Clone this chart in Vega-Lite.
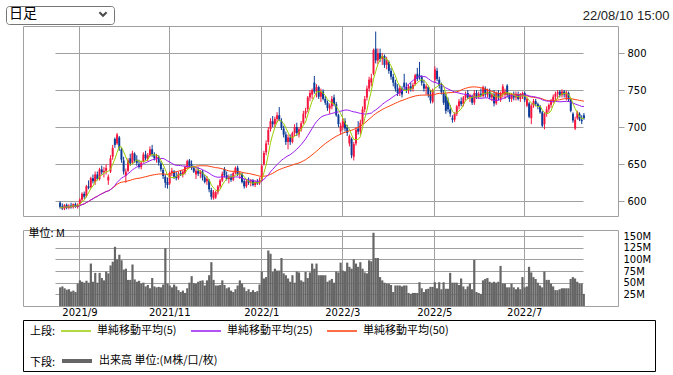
{
"$schema": "https://vega.github.io/schema/vega-lite/v6.json",
"padding": {"left": 5, "top": 5, "right": 5, "bottom": 5},
"background": "white",
"bounds": "flush",
"spacing": 14,
"config": {
 "view": {"stroke": "#a0a0a0"},
 "font": "DejaVu Sans",
 "axis": {"gridColor": "#a0a0a0", "gridOpacity": 1, "domain": false, "labelFont": "DejaVu Sans", "labelFontSize": 10, "labelColor": "#000", "tickColor": "#a0a0a0", "titleFontWeight": "normal"},
 "legend": {"titleFontWeight": "normal", "labelColor": "#000", "titleColor": "#000", "padding": 0}
},
"resolve": {"scale": {"color": "independent", "stroke": "independent", "shape": "independent"}, "legend": {"color": "independent", "stroke": "independent", "shape": "independent"}},
"datasets": {"px": [
{"d":"2021-08-19","o":598,"h":600,"l":590,"c":592,"v":40},
{"d":"2021-08-20","o":593,"h":597,"l":588,"c":590,"v":42},
{"d":"2021-08-23","o":590,"h":596,"l":588,"c":595,"v":38},
{"d":"2021-08-24","o":595,"h":597,"l":589,"c":591,"v":35},
{"d":"2021-08-25","o":591,"h":596,"l":589,"c":594,"v":36},
{"d":"2021-08-26","o":594,"h":598,"l":590,"c":592,"v":31},
{"d":"2021-08-27","o":592,"h":597,"l":590,"c":596,"v":33},
{"d":"2021-08-30","o":596,"h":598,"l":591,"c":593,"v":30},
{"d":"2021-08-31","o":592,"h":597,"l":590,"c":595,"v":48},
{"d":"2021-09-01","o":596,"h":604,"l":594,"c":602,"v":55},
{"d":"2021-09-02","o":602,"h":612,"l":600,"c":610,"v":52},
{"d":"2021-09-03","o":610,"h":613,"l":603,"c":606,"v":50},
{"d":"2021-09-06","o":607,"h":622,"l":605,"c":620,"v":54},
{"d":"2021-09-07","o":620,"h":628,"l":616,"c":618,"v":50},
{"d":"2021-09-08","o":619,"h":633,"l":617,"c":631,"v":91},
{"d":"2021-09-09","o":631,"h":636,"l":624,"c":627,"v":52},
{"d":"2021-09-10","o":626,"h":640,"l":622,"c":636,"v":71},
{"d":"2021-09-13","o":636,"h":640,"l":628,"c":630,"v":50},
{"d":"2021-09-14","o":630,"h":645,"l":628,"c":643,"v":71},
{"d":"2021-09-15","o":643,"h":648,"l":636,"c":639,"v":60},
{"d":"2021-09-16","o":639,"h":646,"l":632,"c":641,"v":55},
{"d":"2021-09-17","o":641,"h":650,"l":636,"c":645,"v":74},
{"d":"2021-09-21","o":628,"h":636,"l":622,"c":633,"v":70},
{"d":"2021-09-22","o":640,"h":662,"l":638,"c":658,"v":87},
{"d":"2021-09-24","o":660,"h":676,"l":656,"c":672,"v":95},
{"d":"2021-09-27","o":684,"h":686,"l":672,"c":676,"v":127},
{"d":"2021-09-28","o":678,"h":692,"l":676,"c":690,"v":100},
{"d":"2021-09-29","o":686,"h":688,"l":668,"c":672,"v":110},
{"d":"2021-09-30","o":670,"h":672,"l":652,"c":656,"v":98},
{"d":"2021-10-01","o":655,"h":660,"l":636,"c":640,"v":78},
{"d":"2021-10-04","o":634,"h":644,"l":625,"c":640,"v":80},
{"d":"2021-10-05","o":641,"h":658,"l":639,"c":655,"v":56},
{"d":"2021-10-06","o":658,"h":664,"l":648,"c":651,"v":56},
{"d":"2021-10-07","o":652,"h":668,"l":650,"c":665,"v":89},
{"d":"2021-10-08","o":664,"h":666,"l":652,"c":655,"v":57},
{"d":"2021-10-11","o":656,"h":662,"l":648,"c":652,"v":52},
{"d":"2021-10-12","o":650,"h":656,"l":644,"c":646,"v":54},
{"d":"2021-10-13","o":646,"h":654,"l":643,"c":652,"v":48},
{"d":"2021-10-14","o":653,"h":666,"l":652,"c":663,"v":50},
{"d":"2021-10-15","o":663,"h":668,"l":655,"c":658,"v":42},
{"d":"2021-10-18","o":657,"h":665,"l":654,"c":662,"v":45},
{"d":"2021-10-19","o":662,"h":674,"l":660,"c":670,"v":38},
{"d":"2021-10-20","o":670,"h":676,"l":660,"c":663,"v":60},
{"d":"2021-10-21","o":663,"h":666,"l":655,"c":658,"v":42},
{"d":"2021-10-22","o":658,"h":664,"l":652,"c":660,"v":40},
{"d":"2021-10-25","o":660,"h":662,"l":648,"c":652,"v":41},
{"d":"2021-10-26","o":651,"h":654,"l":640,"c":643,"v":40},
{"d":"2021-10-27","o":642,"h":645,"l":630,"c":634,"v":46},
{"d":"2021-10-28","o":633,"h":636,"l":618,"c":625,"v":124},
{"d":"2021-10-29","o":626,"h":632,"l":617,"c":622,"v":48},
{"d":"2021-11-01","o":624,"h":640,"l":622,"c":638,"v":44},
{"d":"2021-11-02","o":638,"h":645,"l":634,"c":641,"v":40},
{"d":"2021-11-04","o":640,"h":642,"l":630,"c":633,"v":46},
{"d":"2021-11-05","o":634,"h":640,"l":628,"c":631,"v":42},
{"d":"2021-11-08","o":631,"h":640,"l":629,"c":637,"v":34},
{"d":"2021-11-09","o":638,"h":642,"l":634,"c":636,"v":30},
{"d":"2021-11-10","o":636,"h":642,"l":632,"c":640,"v":33},
{"d":"2021-11-11","o":638,"h":648,"l":636,"c":646,"v":28},
{"d":"2021-11-12","o":646,"h":656,"l":644,"c":654,"v":38},
{"d":"2021-11-15","o":655,"h":657,"l":645,"c":648,"v":50},
{"d":"2021-11-16","o":650,"h":655,"l":642,"c":645,"v":64},
{"d":"2021-11-17","o":645,"h":648,"l":638,"c":640,"v":49},
{"d":"2021-11-18","o":636,"h":644,"l":630,"c":641,"v":48},
{"d":"2021-11-19","o":641,"h":646,"l":634,"c":637,"v":52},
{"d":"2021-11-22","o":637,"h":642,"l":631,"c":640,"v":54},
{"d":"2021-11-24","o":640,"h":642,"l":628,"c":632,"v":55},
{"d":"2021-11-25","o":632,"h":636,"l":624,"c":626,"v":44},
{"d":"2021-11-26","o":627,"h":634,"l":622,"c":630,"v":55},
{"d":"2021-11-29","o":628,"h":630,"l":612,"c":616,"v":66},
{"d":"2021-11-30","o":615,"h":618,"l":602,"c":606,"v":94},
{"d":"2021-12-01","o":604,"h":615,"l":602,"c":612,"v":56},
{"d":"2021-12-02","o":605,"h":614,"l":603,"c":612,"v":44},
{"d":"2021-12-03","o":612,"h":622,"l":609,"c":620,"v":44},
{"d":"2021-12-06","o":620,"h":630,"l":617,"c":628,"v":45},
{"d":"2021-12-07","o":628,"h":640,"l":626,"c":637,"v":55},
{"d":"2021-12-08","o":643,"h":646,"l":632,"c":635,"v":45},
{"d":"2021-12-09","o":635,"h":640,"l":628,"c":630,"v":38},
{"d":"2021-12-10","o":630,"h":636,"l":624,"c":633,"v":40},
{"d":"2021-12-13","o":633,"h":637,"l":626,"c":629,"v":33},
{"d":"2021-12-14","o":629,"h":640,"l":627,"c":638,"v":30},
{"d":"2021-12-15","o":638,"h":647,"l":636,"c":645,"v":36},
{"d":"2021-12-16","o":645,"h":648,"l":634,"c":636,"v":44},
{"d":"2021-12-17","o":636,"h":640,"l":630,"c":638,"v":55},
{"d":"2021-12-20","o":637,"h":638,"l":624,"c":626,"v":48},
{"d":"2021-12-21","o":627,"h":630,"l":617,"c":620,"v":40},
{"d":"2021-12-22","o":620,"h":630,"l":618,"c":627,"v":32},
{"d":"2021-12-23","o":628,"h":632,"l":622,"c":625,"v":36},
{"d":"2021-12-24","o":625,"h":630,"l":620,"c":627,"v":30},
{"d":"2021-12-27","o":628,"h":630,"l":620,"c":622,"v":34},
{"d":"2021-12-28","o":622,"h":628,"l":619,"c":626,"v":30},
{"d":"2021-12-29","o":626,"h":630,"l":622,"c":624,"v":32},
{"d":"2021-12-30","o":624,"h":632,"l":622,"c":628,"v":46},
{"d":"2022-01-04","o":628,"h":650,"l":626,"c":648,"v":74},
{"d":"2022-01-05","o":650,"h":668,"l":648,"c":665,"v":59},
{"d":"2022-01-06","o":666,"h":682,"l":662,"c":678,"v":62},
{"d":"2022-01-07","o":680,"h":700,"l":676,"c":696,"v":119},
{"d":"2022-01-11","o":697,"h":712,"l":694,"c":708,"v":112},
{"d":"2022-01-12","o":708,"h":715,"l":700,"c":704,"v":73},
{"d":"2022-01-13","o":704,"h":714,"l":700,"c":711,"v":80},
{"d":"2022-01-14","o":711,"h":720,"l":706,"c":716,"v":76},
{"d":"2022-01-17","o":716,"h":727,"l":708,"c":710,"v":76},
{"d":"2022-01-18","o":708,"h":712,"l":696,"c":699,"v":103},
{"d":"2022-01-19","o":698,"h":702,"l":686,"c":690,"v":70},
{"d":"2022-01-20","o":690,"h":694,"l":676,"c":680,"v":66},
{"d":"2022-01-21","o":680,"h":690,"l":670,"c":686,"v":59},
{"d":"2022-01-24","o":686,"h":690,"l":676,"c":680,"v":52},
{"d":"2022-01-25","o":680,"h":694,"l":678,"c":692,"v":66},
{"d":"2022-01-26","o":692,"h":704,"l":688,"c":700,"v":50},
{"d":"2022-01-27","o":700,"h":706,"l":688,"c":692,"v":74},
{"d":"2022-01-28","o":690,"h":700,"l":686,"c":697,"v":72},
{"d":"2022-01-31","o":697,"h":708,"l":694,"c":705,"v":55},
{"d":"2022-02-01","o":706,"h":722,"l":704,"c":718,"v":52},
{"d":"2022-02-02","o":718,"h":726,"l":712,"c":722,"v":73},
{"d":"2022-02-03","o":724,"h":742,"l":720,"c":740,"v":60},
{"d":"2022-02-04","o":740,"h":750,"l":735,"c":746,"v":72},
{"d":"2022-02-07","o":744,"h":752,"l":738,"c":750,"v":91},
{"d":"2022-02-08","o":760,"h":769,"l":745,"c":748,"v":80},
{"d":"2022-02-09","o":748,"h":758,"l":740,"c":754,"v":91},
{"d":"2022-02-10","o":754,"h":756,"l":738,"c":741,"v":66},
{"d":"2022-02-14","o":741,"h":752,"l":734,"c":748,"v":66},
{"d":"2022-02-15","o":748,"h":751,"l":736,"c":738,"v":66},
{"d":"2022-02-16","o":738,"h":742,"l":730,"c":733,"v":66},
{"d":"2022-02-17","o":733,"h":736,"l":722,"c":726,"v":52},
{"d":"2022-02-18","o":725,"h":732,"l":718,"c":729,"v":55},
{"d":"2022-02-21","o":728,"h":742,"l":724,"c":738,"v":58},
{"d":"2022-02-22","o":740,"h":744,"l":728,"c":731,"v":50},
{"d":"2022-02-24","o":731,"h":734,"l":714,"c":716,"v":74},
{"d":"2022-02-25","o":716,"h":718,"l":700,"c":704,"v":72},
{"d":"2022-02-28","o":694,"h":706,"l":690,"c":702,"v":93},
{"d":"2022-03-01","o":700,"h":712,"l":696,"c":708,"v":76},
{"d":"2022-03-02","o":708,"h":712,"l":694,"c":698,"v":74},
{"d":"2022-03-03","o":700,"h":703,"l":688,"c":692,"v":93},
{"d":"2022-03-04","o":678,"h":690,"l":674,"c":688,"v":84},
{"d":"2022-03-07","o":684,"h":686,"l":658,"c":662,"v":80},
{"d":"2022-03-08","o":660,"h":680,"l":655,"c":677,"v":100},
{"d":"2022-03-09","o":678,"h":700,"l":675,"c":696,"v":91},
{"d":"2022-03-10","o":698,"h":708,"l":690,"c":694,"v":84},
{"d":"2022-03-11","o":694,"h":710,"l":690,"c":706,"v":94},
{"d":"2022-03-14","o":706,"h":728,"l":704,"c":724,"v":80},
{"d":"2022-03-15","o":724,"h":742,"l":720,"c":738,"v":72},
{"d":"2022-03-16","o":740,"h":756,"l":736,"c":752,"v":70},
{"d":"2022-03-17","o":752,"h":768,"l":748,"c":764,"v":98},
{"d":"2022-03-18","o":760,"h":772,"l":755,"c":766,"v":96},
{"d":"2022-03-22","o":772,"h":806,"l":770,"c":804,"v":157},
{"d":"2022-03-23","o":806,"h":829,"l":786,"c":790,"v":103},
{"d":"2022-03-24","o":790,"h":806,"l":785,"c":800,"v":103},
{"d":"2022-03-25","o":800,"h":806,"l":788,"c":792,"v":62},
{"d":"2022-03-28","o":792,"h":800,"l":784,"c":796,"v":55},
{"d":"2022-03-29","o":796,"h":798,"l":780,"c":784,"v":50},
{"d":"2022-03-30","o":784,"h":795,"l":778,"c":790,"v":48},
{"d":"2022-03-31","o":788,"h":790,"l":772,"c":776,"v":48},
{"d":"2022-04-01","o":776,"h":780,"l":764,"c":768,"v":45},
{"d":"2022-04-04","o":768,"h":772,"l":755,"c":760,"v":30},
{"d":"2022-04-05","o":760,"h":764,"l":748,"c":752,"v":44},
{"d":"2022-04-06","o":752,"h":758,"l":742,"c":746,"v":44},
{"d":"2022-04-07","o":746,"h":756,"l":742,"c":753,"v":44},
{"d":"2022-04-08","o":752,"h":755,"l":740,"c":744,"v":42},
{"d":"2022-04-11","o":760,"h":772,"l":750,"c":754,"v":44},
{"d":"2022-04-12","o":754,"h":760,"l":746,"c":750,"v":44},
{"d":"2022-04-13","o":750,"h":758,"l":745,"c":755,"v":28},
{"d":"2022-04-14","o":755,"h":760,"l":748,"c":752,"v":26},
{"d":"2022-04-15","o":752,"h":760,"l":748,"c":757,"v":28},
{"d":"2022-04-18","o":758,"h":772,"l":756,"c":770,"v":28},
{"d":"2022-04-19","o":772,"h":780,"l":762,"c":765,"v":28},
{"d":"2022-04-20","o":770,"h":788,"l":764,"c":768,"v":51},
{"d":"2022-04-21","o":768,"h":770,"l":756,"c":760,"v":38},
{"d":"2022-04-22","o":758,"h":764,"l":748,"c":752,"v":30},
{"d":"2022-04-25","o":752,"h":758,"l":744,"c":755,"v":36},
{"d":"2022-04-26","o":754,"h":756,"l":740,"c":744,"v":37},
{"d":"2022-04-27","o":744,"h":750,"l":732,"c":736,"v":41},
{"d":"2022-04-28","o":734,"h":752,"l":732,"c":750,"v":41},
{"d":"2022-05-02","o":764,"h":782,"l":760,"c":778,"v":51},
{"d":"2022-05-06","o":776,"h":780,"l":762,"c":765,"v":38},
{"d":"2022-05-09","o":764,"h":768,"l":752,"c":756,"v":51},
{"d":"2022-05-10","o":756,"h":760,"l":744,"c":747,"v":36},
{"d":"2022-05-11","o":746,"h":750,"l":730,"c":733,"v":51},
{"d":"2022-05-12","o":742,"h":745,"l":718,"c":722,"v":37},
{"d":"2022-05-13","o":736,"h":740,"l":720,"c":724,"v":37},
{"d":"2022-05-16","o":724,"h":730,"l":714,"c":718,"v":71},
{"d":"2022-05-17","o":712,"h":716,"l":706,"c":710,"v":50},
{"d":"2022-05-18","o":710,"h":720,"l":707,"c":718,"v":50},
{"d":"2022-05-19","o":718,"h":730,"l":715,"c":728,"v":50},
{"d":"2022-05-20","o":728,"h":738,"l":724,"c":735,"v":45},
{"d":"2022-05-23","o":735,"h":740,"l":728,"c":731,"v":59},
{"d":"2022-05-24","o":731,"h":742,"l":728,"c":740,"v":42},
{"d":"2022-05-25","o":740,"h":748,"l":736,"c":744,"v":36},
{"d":"2022-05-26","o":746,"h":750,"l":738,"c":740,"v":42},
{"d":"2022-05-27","o":740,"h":745,"l":734,"c":743,"v":48},
{"d":"2022-05-30","o":742,"h":744,"l":730,"c":733,"v":36},
{"d":"2022-05-31","o":733,"h":750,"l":730,"c":746,"v":99},
{"d":"2022-06-01","o":746,"h":750,"l":738,"c":741,"v":30},
{"d":"2022-06-02","o":741,"h":748,"l":738,"c":745,"v":28},
{"d":"2022-06-03","o":745,"h":752,"l":740,"c":743,"v":26},
{"d":"2022-06-06","o":742,"h":756,"l":740,"c":754,"v":55},
{"d":"2022-06-07","o":752,"h":755,"l":740,"c":744,"v":58},
{"d":"2022-06-08","o":744,"h":752,"l":740,"c":748,"v":60},
{"d":"2022-06-09","o":748,"h":752,"l":738,"c":740,"v":52},
{"d":"2022-06-10","o":740,"h":746,"l":735,"c":744,"v":50},
{"d":"2022-06-13","o":744,"h":750,"l":728,"c":732,"v":52},
{"d":"2022-06-14","o":732,"h":748,"l":730,"c":746,"v":50},
{"d":"2022-06-15","o":746,"h":750,"l":736,"c":740,"v":52},
{"d":"2022-06-16","o":738,"h":748,"l":734,"c":745,"v":86},
{"d":"2022-06-17","o":745,"h":758,"l":740,"c":755,"v":48},
{"d":"2022-06-20","o":744,"h":752,"l":738,"c":748,"v":48},
{"d":"2022-06-21","o":756,"h":758,"l":740,"c":744,"v":40},
{"d":"2022-06-22","o":744,"h":746,"l":734,"c":738,"v":40},
{"d":"2022-06-23","o":738,"h":746,"l":734,"c":743,"v":48},
{"d":"2022-06-24","o":743,"h":748,"l":736,"c":740,"v":40},
{"d":"2022-06-27","o":740,"h":748,"l":736,"c":745,"v":36},
{"d":"2022-06-28","o":744,"h":748,"l":736,"c":738,"v":40},
{"d":"2022-06-29","o":738,"h":746,"l":734,"c":743,"v":36},
{"d":"2022-06-30","o":742,"h":748,"l":738,"c":746,"v":62},
{"d":"2022-07-01","o":746,"h":748,"l":734,"c":737,"v":40},
{"d":"2022-07-04","o":729,"h":740,"l":727,"c":738,"v":42},
{"d":"2022-07-05","o":732,"h":734,"l":712,"c":714,"v":84},
{"d":"2022-07-06","o":712,"h":732,"l":704,"c":729,"v":72},
{"d":"2022-07-07","o":729,"h":738,"l":726,"c":735,"v":62},
{"d":"2022-07-08","o":735,"h":738,"l":728,"c":731,"v":58},
{"d":"2022-07-11","o":731,"h":733,"l":724,"c":728,"v":50},
{"d":"2022-07-12","o":728,"h":730,"l":718,"c":720,"v":44},
{"d":"2022-07-13","o":720,"h":722,"l":700,"c":702,"v":40},
{"d":"2022-07-14","o":704,"h":720,"l":697,"c":718,"v":74},
{"d":"2022-07-15","o":718,"h":728,"l":714,"c":724,"v":56},
{"d":"2022-07-19","o":724,"h":732,"l":720,"c":730,"v":56},
{"d":"2022-07-20","o":730,"h":738,"l":726,"c":736,"v":48},
{"d":"2022-07-21","o":736,"h":744,"l":732,"c":741,"v":42},
{"d":"2022-07-22","o":741,"h":748,"l":736,"c":745,"v":34},
{"d":"2022-07-25","o":745,"h":750,"l":738,"c":747,"v":34},
{"d":"2022-07-26","o":748,"h":750,"l":740,"c":743,"v":36},
{"d":"2022-07-27","o":743,"h":751,"l":740,"c":748,"v":38},
{"d":"2022-07-28","o":748,"h":750,"l":740,"c":744,"v":38},
{"d":"2022-07-29","o":740,"h":749,"l":736,"c":747,"v":38},
{"d":"2022-08-01","o":746,"h":748,"l":734,"c":737,"v":38},
{"d":"2022-08-02","o":737,"h":738,"l":720,"c":722,"v":58},
{"d":"2022-08-03","o":718,"h":720,"l":706,"c":709,"v":62},
{"d":"2022-08-04","o":698,"h":714,"l":696,"c":710,"v":59},
{"d":"2022-08-05","o":712,"h":722,"l":710,"c":720,"v":52},
{"d":"2022-08-08","o":718,"h":720,"l":708,"c":710,"v":48},
{"d":"2022-08-09","o":710,"h":716,"l":704,"c":708,"v":48},
{"d":"2022-08-10","o":716,"h":719,"l":710,"c":712,"v":26}
]},
"vconcat": [
 {
  "width": 595,
  "height": 190,
  "data": {"name": "px"},
  "transform": [
   {"window": [{"op": "mean", "field": "c", "as": "m5"}], "frame": [-4, 0], "sort": [{"field": "d", "order": "ascending"}]},
   {"window": [{"op": "mean", "field": "c", "as": "m25"}], "frame": [-24, 0], "sort": [{"field": "d", "order": "ascending"}]},
   {"window": [{"op": "mean", "field": "c", "as": "m50"}], "frame": [-49, 0], "sort": [{"field": "d", "order": "ascending"}]}
  ],
  "encoding": {
   "x": {"field": "d", "type": "ordinal", "scale": {"range": [35, 563], "paddingInner": 0.1, "paddingOuter": 0.5},
     "axis": {"values": ["2021-09-01", "2021-11-01", "2022-01-04", "2022-03-01", "2022-05-02", "2022-07-01"], "grid": true, "labels": false, "ticks": false, "domain": false, "title": null}}
  },
  "layer": [
   {"mark": {"type": "rule", "strokeWidth": 1},
    "encoding": {
     "y": {"field": "l", "type": "quantitative", "scale": {"domain": [580, 836.5], "nice": false, "zero": false},
       "axis": {"orient": "right", "values": [600, 650, 700, 750, 800], "grid": true, "tickSize": 6, "labelPadding": 3,
         "title": "22/08/10 15:00", "titleAngle": 0, "titleAlign": "right", "titleBaseline": "middle", "titleX": 51, "titleY": -11,
         "titleFont": "Liberation Sans", "titleFontSize": 13, "titleColor": "#222", "titleFontWeight": "normal"}},
     "y2": {"field": "h"},
     "color": {"condition": {"test": "datum.c >= datum.o", "value": "#f5163f"}, "value": "#0b3a96"}
    }},
   {"mark": {"type": "bar"},
    "encoding": {
     "y": {"field": "o", "type": "quantitative"},
     "y2": {"field": "c"},
     "color": {"condition": {"test": "datum.c >= datum.o", "value": "#f5163f"}, "value": "#0b3a96"}
    }},
   {"mark": {"type": "line", "color": "#ff3d0a", "strokeWidth": 1},
    "encoding": {"y": {"field": "m50", "type": "quantitative"}}},
   {"mark": {"type": "line", "color": "#9a1af0", "strokeWidth": 1},
    "encoding": {"y": {"field": "m25", "type": "quantitative"}}},
   {"mark": {"type": "line", "color": "#9acd00", "strokeWidth": 1},
    "encoding": {"y": {"field": "m5", "type": "quantitative"}}},
   {"data": {"values": []},
    "mark": {"type": "point", "filled": false},
    "encoding": {
     "shape": {"datum": "日足", "type": "nominal",
       "scale": {"domain": ["日足"], "range": ["M-0.9,-0.45L0,0.45L0.9,-0.45"]},
       "legend": {"orient": "none", "legendX": -17, "legendY": -20, "title": "日足", "titleOrient": "left",
         "titleFont": "Noto Sans CJK JP", "titleFontSize": 14, "titleColor": "#000", "titleFontWeight": "normal",
         "titlePadding": 61, "titleAnchor": "middle", "titleBaseline": "middle",
         "strokeColor": "#767676", "cornerRadius": 3, "padding": 3, "labelExpr": "''", "labelOffset": 0,
         "symbolSize": 64, "symbolStrokeColor": "#000", "symbolStrokeWidth": 2, "symbolFillColor": "transparent"}}
    }}
  ]
 },
 {
  "width": 595,
  "height": 76,
  "data": {"name": "px"},
  "mark": {"type": "bar", "color": "#666666"},
  "encoding": {
   "x": {"field": "d", "type": "ordinal", "scale": {"range": [35, 563], "paddingInner": 0, "paddingOuter": 0.5},
     "axis": {"values": ["2021-09-01", "2021-11-01", "2022-01-04", "2022-03-01", "2022-05-02", "2022-07-01"], "grid": true, "ticks": false, "domain": false, "title": null, "labelAngle": 0, "labelPadding": 1,
       "labelExpr": "toNumber(slice(datum.value,0,4)) + '/' + toNumber(slice(datum.value,5,7))"}},
   "y": {"field": "v", "type": "quantitative", "scale": {"domain": [0, 163], "nice": false},
     "axis": {"orient": "right", "values": [25, 50, 75, 100, 125, 150], "labelExpr": "datum.value + 'M'", "grid": true, "ticks": false, "labelPadding": 5,
       "title": "単位: M", "titleAngle": 0, "titleAlign": "left", "titleBaseline": "middle", "titleX": -590, "titleY": 3,
       "titleFont": "Noto Sans CJK JP", "titleFontSize": 11, "titleColor": "#000", "titleFontWeight": "normal"}}
  }
 },
 {
  "width": 632,
  "height": 51,
  "view": {"stroke": "#000", "strokeWidth": 1},
  "resolve": {"scale": {"color": "independent", "stroke": "independent"}},
  "layer": [
   {"data": {"values": [{"s": "単純移動平均(5)"}, {"s": "単純移動平均(25)"}, {"s": "単純移動平均(50)"}]},
    "mark": {"type": "line", "strokeWidth": 1.5},
    "encoding": {
     "color": {"field": "s", "type": "nominal",
       "scale": {"domain": ["単純移動平均(5)", "単純移動平均(25)", "単純移動平均(50)"], "range": ["#9acd00", "#9a1af0", "#ff3d0a"]},
       "legend": {"orient": "none", "legendX": 7, "legendY": -5, "direction": "horizontal", "title": "上段:", "titleOrient": "left",
         "titleFont": "Noto Sans CJK JP", "titleFontSize": 11, "titlePadding": 4, "titleAnchor": "middle", "titleBaseline": "top",
         "labelFont": "Noto Sans CJK JP", "labelFontSize": 11, "labelOffset": 5, "columnPadding": 11,
         "symbolType": "stroke", "symbolSize": 900, "symbolStrokeWidth": 1.5}}
    }},
   {"data": {"values": [{"k": "出来高 単位:(M株/口/枚)"}]},
    "mark": {"type": "line", "strokeWidth": 4},
    "encoding": {
     "stroke": {"field": "k", "type": "nominal", "scale": {"range": ["#666666"]},
       "legend": {"orient": "none", "legendX": 7, "legendY": 24, "direction": "horizontal", "title": "下段:", "titleOrient": "left",
         "titleFont": "Noto Sans CJK JP", "titleFontSize": 11, "titlePadding": 4, "titleAnchor": "middle", "titleBaseline": "top",
         "labelFont": "Noto Sans CJK JP", "labelFontSize": 11, "labelOffset": 5,
         "symbolType": "stroke", "symbolSize": 900, "symbolStrokeWidth": 4}}
    }}
  ]
 }
]
}
